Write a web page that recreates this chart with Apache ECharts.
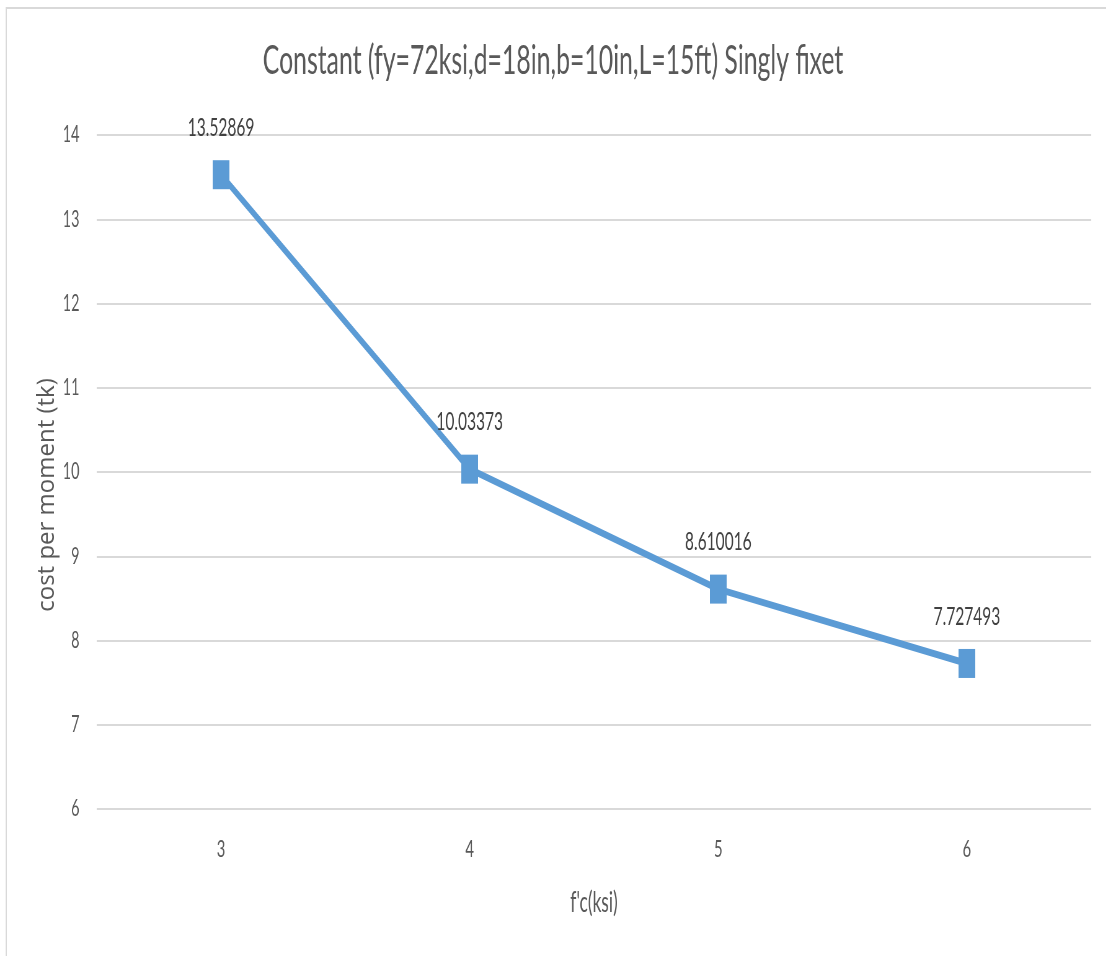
<!DOCTYPE html>
<html>
<head>
<meta charset="utf-8">
<script src="https://cdn.jsdelivr.net/npm/echarts@6/dist/echarts.min.js"></script>
<style>
  html, body { margin: 0; padding: 0; background: #fff; overflow: hidden; }
  #frame { width: 1106px; height: 956px; overflow: hidden; position: relative; }
  /* the chart is laid out wide and compressed horizontally to a narrow aspect */
  #chart { width: 1784px; height: 956px; transform: scaleX(0.62); transform-origin: 0 0; }
</style>
</head>
<body>
<div id="frame"><div id="chart"></div></div>
<script>
// f'c values (ksi) and the resulting cost per moment (tk)
const categories = ['3', '4', '5', '6'];
const costPerMoment = [13.52869, 10.03373, 8.610016, 7.727493];
const yTicks = { min: 6, max: 14, interval: 1 };

const SQUASH = 0.62;
const FONT = 'Lato, "Open Sans", "Liberation Sans", sans-serif';

const chart = echarts.init(document.getElementById('chart'), null, { renderer: 'canvas' });

chart.setOption({
  backgroundColor: '#ffffff',
  animation: false,
  title: {
    text: "Constant (fy=72ksi,d=18in,b=10in,L=15ft) Singly fixet",
    left: 'center',
    top: 36,
    textStyle: { fontFamily: FONT, fontSize: 40, fontWeight: 'normal', color: '#595959' }
  },
  graphic: [
    {
      type: 'rect',
      shape: { x: 10, y: 8, width: 2000, height: 1200 },
      style: { fill: 'none', stroke: '#d9d9d9', lineWidth: 2 },
      silent: true
    },
    {
      // vertical axis title, stretched so it reads upright after the horizontal compression
      type: 'text',
      x: 47 / SQUASH,
      y: 495,
      rotation: Math.PI / 2,
      scaleX: 1,
      scaleY: 1 / SQUASH,
      style: {
        text: 'cost per moment (tk)',
        font: '24px "Open Sans", "DejaVu Sans", sans-serif',
        fill: '#595959',
        align: 'center',
        verticalAlign: 'middle',
        textAlign: 'center',
        textVerticalAlign: 'middle'
      },
      silent: true
    }
  ],
  grid: { left: 156, right: 24, top: 135, bottom: 147 },
  xAxis: {
    type: 'category',
    data: categories,
    boundaryGap: true,
    name: "f'c(ksi)",
    nameLocation: 'middle',
    nameGap: 80,
    nameTextStyle: { fontFamily: FONT, fontSize: 28, color: '#595959' },
    axisLine: { show: false },
    axisTick: { show: false },
    axisLabel: { margin: 28, fontFamily: FONT, fontSize: 24, color: '#595959' }
  },
  yAxis: {
    type: 'value',
    min: yTicks.min,
    max: yTicks.max,
    interval: yTicks.interval,
    axisLine: { show: false },
    axisTick: { show: false },
    axisLabel: { margin: 28, fontFamily: FONT, fontSize: 23, color: '#595959' },
    splitLine: { lineStyle: { color: '#d9d9d9', width: 2 } }
  },
  series: [{
    type: 'line',
    data: costPerMoment,
    symbol: 'rect',
    symbolSize: [27, 29],
    showAllSymbol: true,
    lineStyle: { color: '#5b9bd5', width: 7 },
    itemStyle: { color: '#5b9bd5' },
    label: {
      show: true,
      position: 'top',
      distance: 20,
      fontFamily: FONT,
      fontSize: 25,
      color: '#404040',
      formatter: p => String(p.value)
    }
  }]
});
</script>
</body>
</html>
